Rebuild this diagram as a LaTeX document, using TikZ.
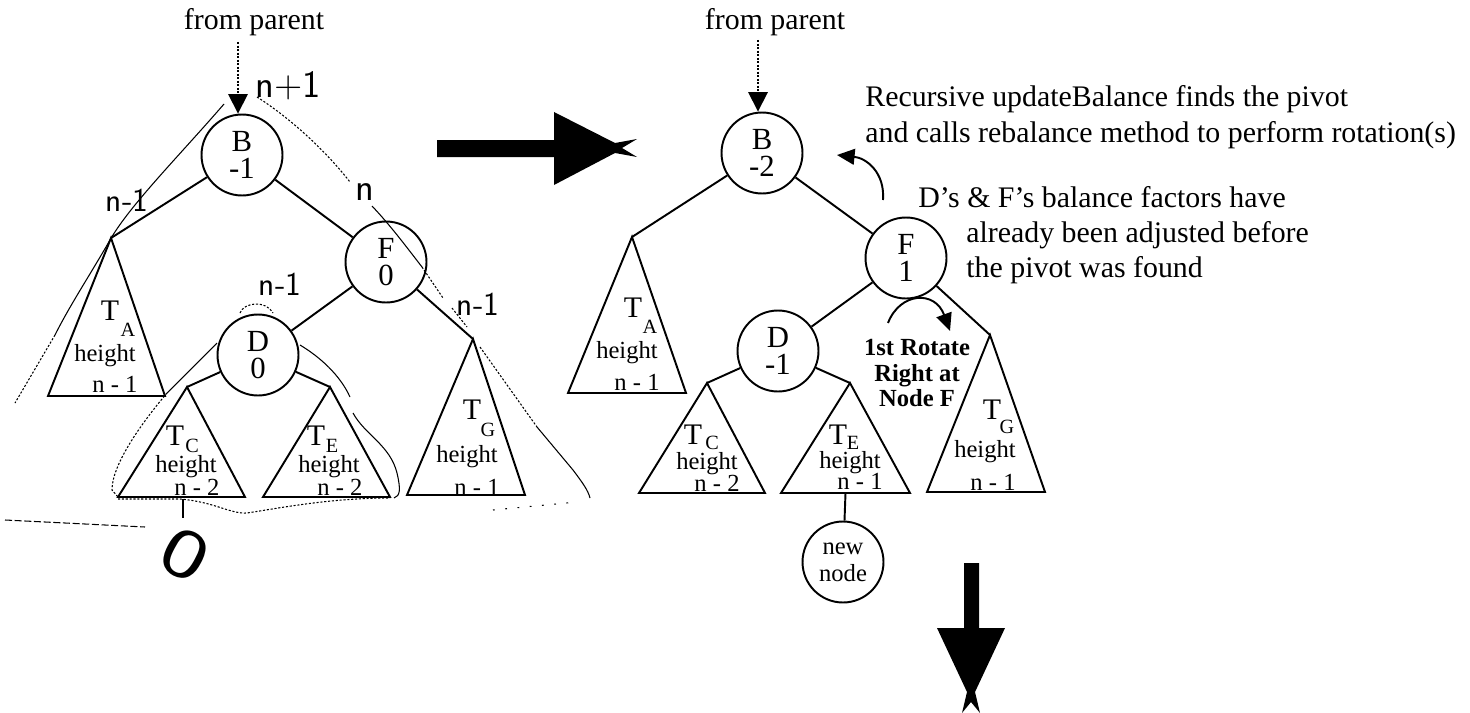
\documentclass[tikz,border=0pt]{standalone}
\usepackage{fontspec}
\setmainfont{Liberation Serif}
\usetikzlibrary{arrows.meta,calc}

% one subtree drawn as a triangle: name, apex, base left, base right
\newcommand\subtree[4]{%
  \coordinate (#1a) at #2;
  \coordinate (#1l) at #3;
  \coordinate (#1r) at #4;
  \draw[tri] (#1a) -- (#1l) -- (#1r) -- cycle;}

\begin{document}
\begin{tikzpicture}[x=0.02cm,y=-0.02cm,
  tn/.style={circle,draw,line width=1.1pt,minimum size=1.62cm,inner sep=0pt,
    align=center,font=\fontsize{17.5}{15.5}\selectfont},
  edge/.style={line width=1.1pt},
  tri/.style={line width=1.1pt,line join=miter},
  tT/.style={inner sep=0pt,font=\fontsize{17}{17}\selectfont},
  tsub/.style={inner sep=0pt,font=\fontsize{11.5}{11.5}\selectfont},
  tht/.style={inner sep=0pt,font=\fontsize{14}{14}\selectfont},
  lbl/.style={inner sep=0pt,font=\fontsize{17}{17}\selectfont},
  note/.style={inner sep=0pt,anchor=base west,font=\fontsize{17}{17}\selectfont},
  hand/.style={line width=0.6pt},
  handdot/.style={line width=0.6pt,dash pattern=on 1.2pt off 1pt},
  handtxt/.style={inner sep=0pt,font=\fontsize{22}{22}\sffamily},
  fparrow/.style={line width=1pt,dash pattern=on 1.2pt off 0.8pt,
    -{Triangle[length=11pt,width=11pt]}},
  bendarrow/.style={line width=1.1pt,-{Triangle[length=10pt,width=9pt]}},
]
\useasboundingbox (0,0) rectangle (1470,713);

% ---------------- tree before the insertion ----------------
\node[lbl] (fpL) at (254,22) {from parent};
\coordinate (fpLs) at (238,42);
\node[tn] (Bl) at (242,155) {B\\-1};
\node[tn] (Fl) at (386,262) {F\\0};
\node[tn] (Dl) at (258,355) {D\\0};
\draw[fparrow] (fpLs) -- (fpLs |- Bl.north);

\subtree{TAl}{(111,238)}{(48,396)}{(165,396)}
\subtree{TCl}{(187,387)}{(118,497)}{(245,497)}
\subtree{TEl}{(330,387)}{(263,497)}{(390,497)}
\subtree{TGl}{(473,339)}{(407,495)}{(525,495)}

\draw[edge] (Bl) -- (TAla);
\draw[edge] (Bl) -- (Fl);
\draw[edge] (Fl) -- (Dl);
\draw[edge] (Fl) -- (TGla);
\draw[edge] (Dl) -- (TCla);
\draw[edge] (Dl) -- (TEla);

\node[tT] (TAlT) at (110,311) {T};
\node[tsub] (TAlS) at (128,330) {A};
\node[tht] (TAlH) at (105,356) {height};
\node[tht] (TAlN) at (115,384) {n - 1};

\node[tT] (TClT) at (175,436) {T};
\node[tsub] (TClS) at (192,446) {C};
\node[tht] (TClH) at (186,467) {height};
\node[tht] (TClN) at (197,487) {n - 2};

\node[tT] (TElT) at (316,436) {T};
\node[tsub] (TElS) at (332,446) {E};
\node[tht] (TElH) at (329,467) {height};
\node[tht] (TElN) at (340,487) {n - 2};

\node[tT] (TGlT) at (472,410) {T};
\node[tsub] (TGlS) at (488,430) {G};
\node[tht] (TGlH) at (467,457) {height};
\node[tht] (TGlN) at (477,487) {n - 1};

% pen notes on the heights
\node[handtxt] (h1) at (288,86) {n+1};
\node[handtxt,font=\fontsize{19}{19}\sffamily] (h2) at (127,200) {n-1};
\node[handtxt] (h3) at (365,192) {n};
\node[handtxt,font=\fontsize{19}{19}\sffamily] (h4) at (280,284) {n-1};
\node[handtxt,font=\fontsize{19}{19}\sffamily] (h5) at (478,304) {n-1};
\node[handtxt,font=\fontsize{40}{40}\sffamily,rotate=-28,xscale=1.35] (h6) at (185,555) {0};

\draw[hand] (224,104) .. controls (180,155) and (130,205) .. (110,240)
            .. controls (90,275) and (70,305) .. (55,335);
\draw[handdot] (55,335) -- (15,403);
\draw[handdot] (257,97) .. controls (290,118) and (325,150) .. (350,182);
\draw[hand] (372,206) .. controls (390,225) and (405,245) .. (422,267);
\draw[handdot] (422,267) -- (443,298);
\draw[handdot] (452,308) -- (467,327);
\draw[handdot] (480,347) -- (537,427);
\draw[hand] (537,427) -- (573,470) .. controls (582,482) and (588,490) .. (590,498);
\draw[handdot] (240,313) .. controls (244,302) and (266,300) .. (273,313);
\draw[hand] (217,343) -- (167,393);
\draw[handdot] (167,393) .. controls (140,425) and (112,465) .. (112,490)
               -- (118,497);
\draw[handdot] (118,499) -- (180,499) .. controls (215,502) and (230,514) .. (247,513)
               .. controls (280,508) and (330,498) .. (390,498);
\draw[hand] (300,345) .. controls (320,357) and (340,375) .. (350,397);
\draw[hand] (353,413) .. controls (365,435) and (390,445) .. (397,473)
            .. controls (401,490) and (400,496) .. (394,498);
\draw[hand] (183,499) -- (183,518);
\draw[handdot,dash pattern=on 4pt off 1.5pt] (5,520) -- (145,527);
\draw[handdot,dash pattern=on 1pt off 6pt] (493,510) -- (577,502);

% ---------------- big arrow between the trees ----------------
\fill (437,140) -- (554,140) -- (554,112) -- (615,143) -- (637,139) -- (622,148)
      -- (637,157) -- (615,153) -- (554,185) -- (554,157) -- (437,157) -- cycle;

% ---------------- tree after the insertion ----------------
\node[lbl] (fpR) at (775,22) {from parent};
\coordinate (fpRs) at (758,40);
\node[tn] (Br) at (762,153) {B\\-2};
\node[tn] (Fr) at (906,258) {F\\1};
\node[tn] (Dr) at (778,351) {D\\-1};
\node[tn,font=\fontsize{14}{15.5}\selectfont] (NEW) at (843,562) {new\\node};
\draw[fparrow] (fpRs) -- (fpRs |- Br.north);

\subtree{TAr}{(632,237)}{(568,393)}{(686,393)}
\subtree{TCr}{(707,383)}{(639,493)}{(765,493)}
\subtree{TEr}{(850,383)}{(781,493)}{(910,493)}
\subtree{TGr}{(990,335)}{(927,492)}{(1045,492)}
\coordinate (TErm) at ($(TErl)!0.5!(TErr)$);

\draw[edge] (Br) -- (TAra);
\draw[edge] (Br) -- (Fr);
\draw[edge] (Fr) -- (Dr);
\draw[edge] (Fr) -- (TGra);
\draw[edge] (Dr) -- (TCra);
\draw[edge] (Dr) -- (TEra);
\draw[edge] (TErm) -- (NEW);

\node[tT] (TArT) at (633,308) {T};
\node[tsub] (TArS) at (650,327) {A};
\node[tht] (TArH) at (627,353) {height};
\node[tht] (TArN) at (637,382) {n - 1};

\node[tT] (TCrT) at (693,435) {T};
\node[tsub] (TCrS) at (712,443) {C};
\node[tht] (TCrH) at (707,464) {height};
\node[tht] (TCrN) at (717,483) {n - 2};

\node[tT] (TErT) at (838,435) {T};
\node[tsub] (TErS) at (853,443) {E};
\node[tht] (TErH) at (850,463) {height};
\node[tht] (TErN) at (860,481) {n - 1};

\node[tT] (TGrT) at (992,410) {T};
\node[tsub] (TGrS) at (1007,427) {G};
\node[tht] (TGrH) at (985,452) {height};
\node[tht] (TGrN) at (993,482) {n - 1};

\node[align=center,inner sep=0pt,font=\bfseries\fontsize{14}{14.7}\selectfont]
  (rot) at (917,373) {1st Rotate\\Right at\\Node F};

\node[note] (rec1) at (865,107) {Recursive updateBalance finds the pivot};
\node[note] (rec2) at (865,142) {and calls rebalance method to perform rotation(s)};
\node[note] (df1) at (918,207) {D's \& F's balance factors have};
\node[note] (df2) at (966,242) {already been adjusted before};
\node[note] (df3) at (966,277) {the pivot was found};

\coordinate (recS) at (883,200);
\coordinate (recE) at (837,155);
\draw[bendarrow] (recS) .. controls (885,172) and (866,158) .. (recE);
\coordinate (rotS) at (888,323);
\coordinate (rotE) at (950,331);
\draw[bendarrow] (rotS) .. controls (900,292) and (935,290) .. (rotE);

% ---------------- big arrow pointing down ----------------
\fill (964,563) -- (979,563) -- (979,628) -- (1005,628) -- (975,692) -- (980,713)
      -- (971,702) -- (962,713) -- (967,692) -- (937,628) -- (964,628) -- cycle;
\end{tikzpicture}
\end{document}
